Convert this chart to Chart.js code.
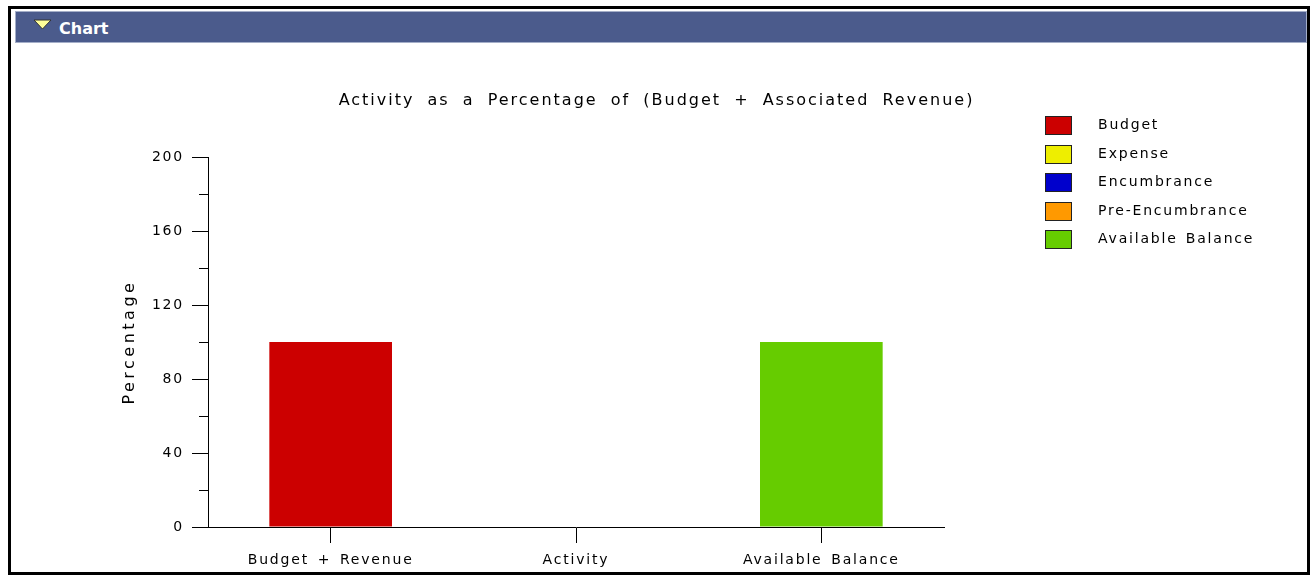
<!DOCTYPE html>
<html>
<head>
<meta charset="utf-8">
<title>Chart</title>
<script src="https://cdn.jsdelivr.net/npm/chart.js@4.4.1/dist/chart.umd.min.js"></script>
<style>
  html, body { margin: 0; padding: 0; background: #fff; }
  body { width: 1313px; height: 576px; position: relative; overflow: hidden; font-family: "DejaVu Sans", sans-serif; }
  #frame { position: absolute; left: 8px; top: 6px; width: 1302px; height: 569px; box-sizing: border-box; border: 3px solid #000; }
  #bar { position: absolute; left: 15px; top: 11px; width: 1292px; height: 32px; box-sizing: border-box; background: #4b5b8c; border: 1px solid #a4aec8; }
  #bar svg { position: absolute; left: 17px; top: 7px; }
  #bar span { position: absolute; left: 43px; top: 7px; color: #fff; font: bold 16px "DejaVu Sans", sans-serif; }
  #chart { position: absolute; left: 0; top: 0; }
  #legend { position: absolute; left: 1045px; top: 116px; margin: 0; padding: 0; list-style: none; }
  #legend li { height: 28.6px; position: relative; font-size: 14px; letter-spacing: 1.8px; word-spacing: 2px; color: #000; }
  #legend i { position: absolute; left: 0; top: 0; width: 27px; height: 19px; box-sizing: border-box; border: 1px solid #222; }
  #legend b { position: absolute; left: 53px; top: 0; font-weight: normal; white-space: nowrap; }
</style>
</head>
<body>
<div id="frame"></div>
<div id="bar">
  <svg width="20" height="12"><polygon points="1,1 18,1 9.5,10" fill="#ffff99" stroke="#333" stroke-width="1"/></svg>
  <span>Chart</span>
</div>
<canvas id="chart" width="1313" height="576"></canvas>
<ul id="legend"></ul>
<script>
// categories and values (percent)
const categories = ['Budget + Revenue', 'Activity', 'Available Balance'];
const seriesNames = ['Budget', 'Expense', 'Encumbrance', 'Pre-Encumbrance', 'Available Balance'];
const budget = [100, null, null];
const expense = [null, 0, null];
const encumbrance = [null, 0, null];
const preEncumbrance = [null, 0, null];
const availableBalance = [null, null, 100];
const yMin = 0, yMax = 200, yLabelStep = 40, yMinorStep = 20;

const colors = ['#cc0000', '#eeee00', '#0000cc', '#ff9900', '#66cc00'];
const values = [budget, expense, encumbrance, preEncumbrance, availableBalance];

const family = '"DejaVu Sans", sans-serif';
const font = { family: family, size: 14 };

// wraps a draw method so its text gets its own spacing
function spaced(obj, method, letter, word) {
  if (!obj || obj['_sp_' + method]) return;
  const orig = obj[method];
  obj[method] = function () {
    const ctx = this.ctx;
    ctx.save();
    ctx.letterSpacing = letter;
    ctx.wordSpacing = word;
    orig.apply(this, arguments);
    ctx.restore();
  };
  obj['_sp_' + method] = true;
}

// letter spaced text like the original applet
const spacing = {
  id: 'spacing',
  beforeUpdate(chart) {
    chart.ctx.letterSpacing = '1.8px';
    chart.ctx.wordSpacing = '2.5px';
  },
  beforeDraw(chart) {
    chart.ctx.letterSpacing = '1.8px';
    chart.ctx.wordSpacing = '2.5px';
    spaced(chart.titleBlock, 'draw', '2px', '6px');
    spaced(chart.scales.y, 'drawTitle', '3.5px', '0px');
  }
};

const chart = new Chart(document.getElementById('chart'), {
  type: 'bar',
  data: {
    labels: categories,
    datasets: seriesNames.map((name, i) => ({
      label: name,
      data: values[i],
      backgroundColor: colors[i],
      borderWidth: 0,
      barPercentage: 0.5,
      categoryPercentage: 1
    }))
  },
  options: {
    responsive: false,
    animation: false,
    devicePixelRatio: 1,
    layout: { padding: { left: 0, right: 0, top: 0, bottom: 9 } },
    plugins: {
      legend: { display: false },
      tooltip: { enabled: false },
      title: {
        display: true,
        text: 'Activity as a Percentage of (Budget + Associated Revenue)',
        color: '#000',
        font: { family: family, size: 16, weight: 'normal' },
        padding: { top: 91, bottom: 47 }
      }
    },
    scales: {
      x: {
        stacked: true,
        grid: { offset: false, drawOnChartArea: false, tickLength: 16, color: '#000' },
        border: { color: '#000' },
        ticks: { color: '#000', font: font, padding: 9, maxRotation: 0 },
        afterFit: s => { s.height = 40; }
      },
      y: {
        stacked: true,
        weight: 1,
        min: yMin, max: yMax,
        grid: { drawOnChartArea: false, tickLength: 16, color: '#000' },
        border: { color: '#000' },
        ticks: { stepSize: yLabelStep, color: '#000', font: font, padding: 8 },
        title: { display: true, text: 'Percentage', color: '#000', font: { family: family, size: 16 }, padding: { top: 120, bottom: 0 } },
        afterFit: s => { s.width = 208; }
      },
      yMinor: {
        position: 'left',
        weight: 0,
        min: yMin, max: yMax,
        grid: { drawOnChartArea: false, tickLength: 9, color: '#000' },
        border: { display: false },
        ticks: { display: false, stepSize: yMinorStep },
        afterFit: s => { s.width = 0; }
      },
      pad: {
        position: 'right',
        grid: { display: false },
        border: { display: false },
        ticks: { display: false },
        afterFit: s => { s.width = 369; }
      }
    }
  },
  plugins: [spacing]
});

// html legend from the chart datasets
const legend = document.getElementById('legend');
chart.data.datasets.forEach(ds => {
  const li = document.createElement('li');
  li.innerHTML = '<i style="background:' + ds.backgroundColor + '"></i><b>' + ds.label + '</b>';
  legend.appendChild(li);
});
</script>
</body>
</html>
